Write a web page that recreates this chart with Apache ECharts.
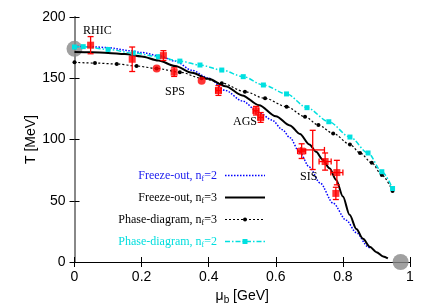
<!DOCTYPE html>
<html><head><meta charset="utf-8">
<script src="https://cdn.jsdelivr.net/npm/echarts@6/dist/echarts.min.js"></script>
<style>html,body{margin:0;padding:0;background:#fff}#c{width:436px;height:305px}</style>
</head><body><div id="c"></div>
<script>
// Freeze-out, nf=2 (blue dotted)
const freeze2Mu = [0, 0.05, 0.1, 0.165, 0.2, 0.25, 0.3, 0.35, 0.4, 0.45, 0.5, 0.55, 0.588, 0.62, 0.642, 0.672, 0.7, 0.732, 0.771, 0.81, 0.84, 0.875, 0.882];
const freeze2T  = [176, 175.7, 175, 172.5, 171, 168.5, 164, 156.5, 150, 140, 131.5, 122, 116, 108, 101.5, 89, 77.5, 64.5, 48, 34, 24, 12.5, 10.5];
// Freeze-out, nf=3 (black solid)
const freeze3Mu = [0, 0.05, 0.1, 0.15, 0.2, 0.25, 0.3, 0.35, 0.4, 0.45, 0.5, 0.55, 0.6, 0.642, 0.672, 0.7, 0.72, 0.74, 0.76, 0.78, 0.8, 0.82, 0.84, 0.86, 0.88, 0.9, 0.92, 0.934];
const freeze3T  = [171.5, 171.3, 170.7, 169.7, 167.8, 164.5, 160, 154.5, 149.5, 143.5, 136, 128, 119, 111.5, 104.5, 96, 90, 83.5, 76.5, 67, 53.5, 38.5, 27, 19, 12.5, 8, 4.5, 3];
// Phase-diagram, nf=3 (black dotted with dots)
const phase3Mu = [0, 0.061, 0.126, 0.185, 0.245, 0.314, 0.379, 0.439, 0.508, 0.568, 0.632, 0.687, 0.727, 0.771, 0.821, 0.851, 0.886, 0.916, 0.948];
const phase3T  = [163, 162.4, 161.6, 160, 158, 155, 150, 146, 139, 133.6, 126.8, 118.6, 111.8, 105, 96, 89, 81, 71, 58];
// Phase-diagram, nf=2 (cyan dash-dot with squares)
const phase2Mu = [0, 0.026, 0.1, 0.175, 0.25, 0.314, 0.374, 0.439, 0.503, 0.563, 0.632, 0.693, 0.758, 0.821, 0.875, 0.916, 0.948];
const phase2T  = [175.5, 175.8, 173.5, 170.6, 167.6, 164, 160.8, 156.7, 151.3, 144.5, 137.2, 126, 114.5, 102, 89, 73.7, 60];
// Experimental freeze-out points with errors
const expMu   = [0.048, 0.172, 0.265, 0.245, 0.297, 0.379, 0.429, 0.541, 0.555, 0.677, 0.71, 0.747, 0.782, 0.779];
const expT    = [177, 165.5, 168.5, 158, 155, 148, 140, 123.5, 118, 90.5, 91.5, 82, 73, 56];
const expMuErr= [0, 0, 0, 0, 0, 0, 0.008, 0.008, 0.008, 0.012, 0.035, 0.018, 0.018, 0];
const expTErr = [7, 10, 4, 0, 3.5, 0, 4, 3.5, 4, 6, 16, 7, 10, 5];
// Grey end points
const endMu = [0, 0.972];
const endT  = [174, 0];
// Legend / series names
const seriesNames = ['Freeze-out, nf=2', 'Freeze-out, nf=3', 'Phase-diagram, nf=3', 'Phase-diagram, nf=2'];
// Annotations
const annText = ['RHIC', 'SPS', 'AGS', 'SIS'];

const zip = (a, b) => a.map((v, i) => [v, b[i]]);
const serif = 'Liberation Serif';
const sans = 'Liberation Sans';
const BLUE = '#0000ff', CYAN = '#00e0e0', BLACK = '#000000';
const legendCols = [ '#1a1aee', BLACK, BLACK, '#00dede' ];
const legendLine = [
  {stroke: BLUE, lineWidth: 1.5, lineDash: [1.5, 1.5]},
  {stroke: BLACK, lineWidth: 2},
  {stroke: BLACK, lineWidth: 1.2, lineDash: [2, 2]},
  {stroke: CYAN, lineWidth: 1.5, lineDash: [5, 2, 1.5, 2]}
];
const legendSym = [null, null, 'circle', 'rect'];
const rowY = [175.5, 197.5, 219.5, 241.5];
const txtRight = 217, lineX1 = 225, lineX2 = 265;

const legendGraphics = [];
seriesNames.forEach((name, i) => {
  const m = name.match(/^(.*n)f(=\d)$/);
  const c = legendCols[i];
  legendGraphics.push({
    type: 'text', x: txtRight, y: rowY[i], z: 100,
    style: {
      text: '{t|' + m[1] + '}{s|f}{t|' + m[2] + '}',
      align: 'right', verticalAlign: 'middle',
      rich: {
        t: {fontFamily: serif, fontSize: 12, fill: c, color: c},
        s: {fontFamily: serif, fontSize: 8, fill: c, color: c, padding: [6, 0, 0, 0]}
      }
    }
  });
  legendGraphics.push({
    type: 'line', z: 100,
    shape: {x1: lineX1, y1: rowY[i], x2: lineX2, y2: rowY[i]},
    style: legendLine[i]
  });
  if (legendSym[i] === 'circle') {
    legendGraphics.push({type: 'circle', z: 101, shape: {cx: (lineX1 + lineX2) / 2, cy: rowY[i], r: 2}, style: {fill: BLACK}});
  } else if (legendSym[i] === 'rect') {
    legendGraphics.push({type: 'rect', z: 101, shape: {x: (lineX1 + lineX2) / 2 - 2.5, y: rowY[i] - 2.5, width: 5, height: 5}, style: {fill: CYAN}});
  }
});

const annPos = [[83, 31], [165, 92], [233, 122], [300, 177]];
const annGraphics = annText.map((t, i) => ({
  type: 'text', x: annPos[i][0], y: annPos[i][1], z: 100,
  style: {text: t, fontFamily: serif, fontSize: 12, fill: '#000', verticalAlign: 'middle'}
}));

const chart = echarts.init(document.getElementById('c'), null, {renderer: 'canvas'});
const common = {type: 'value', min: 0, max: 1, interval: 0.2, splitLine: {show: false}};

chart.setOption({
  animation: false,
  backgroundColor: '#fff',
  grid: {left: 74.5, right: 26, top: 17, bottom: 43, containLabel: false, outerBoundsMode: 'none'},
  xAxis: [
    Object.assign({}, common, {
      position: 'bottom',
      axisLine: {lineStyle: {color: '#000', width: 1}},
      axisTick: {inside: true, length: 5, lineStyle: {color: '#000'}},
      axisLabel: {fontFamily: sans, fontSize: 14, color: '#000', margin: 8},
      name: '{a|μ}{b|b}{a| [GeV]}', nameLocation: 'middle', nameGap: 26, nameMoveOverlap: false,
      nameTextStyle: {rich: {a: {fontFamily: sans, fontSize: 14, color: '#000'}, b: {fontFamily: sans, fontSize: 10, color: '#000', padding: [7, 0, 0, 0]}}}
    }),
    Object.assign({}, common, {
      position: 'top',
      axisLine: {lineStyle: {color: '#000', width: 1}},
      axisTick: {inside: true, length: 5, lineStyle: {color: '#000'}},
      axisLabel: {show: false}
    })
  ],
  yAxis: [
    {type: 'value', min: 0, max: 200, interval: 50, position: 'left', splitLine: {show: false},
     axisLine: {lineStyle: {color: '#888', width: 2}},
     axisTick: {inside: true, length: 5, lineStyle: {color: '#000'}},
     axisLabel: {fontFamily: sans, fontSize: 14, color: '#000', margin: 9},
     name: 'T [MeV]', nameLocation: 'middle', nameGap: 36, nameRotate: 90, nameMoveOverlap: false,
     nameTextStyle: {fontFamily: sans, fontSize: 14, color: '#000'}},
    {type: 'value', min: 0, max: 200, interval: 50, position: 'right', splitLine: {show: false},
     axisLine: {lineStyle: {color: '#888', width: 2}},
     axisTick: {inside: true, length: 5, lineStyle: {color: '#000'}},
     axisLabel: {show: false}}
  ],
  graphic: legendGraphics.concat(annGraphics),
  series: [
    {type: 'scatter', name: 'end', data: zip(endMu, endT), symbolSize: 16, clip: false,
     itemStyle: {color: '#888'}, z: 1, silent: true},
    {type: 'line', name: seriesNames[0], data: zip(freeze2Mu, freeze2T), symbol: 'none',
     smooth: 0.3, smoothMonotone: 'x',
     lineStyle: {color: BLUE, width: 1.5, type: [1.5, 1.5]}, z: 3},
    {type: 'line', name: seriesNames[1], data: zip(freeze3Mu, freeze3T), symbol: 'none',
     smooth: 0.3, smoothMonotone: 'x',
     lineStyle: {color: BLACK, width: 2}, z: 3},
    {type: 'line', name: seriesNames[2], data: zip(phase3Mu, phase3T), symbol: 'circle', symbolSize: 4,
     smooth: 0.3, smoothMonotone: 'x',
     lineStyle: {color: BLACK, width: 1.2, type: [2, 2]}, itemStyle: {color: BLACK}, z: 3},
    {type: 'line', name: seriesNames[3], data: zip(phase2Mu, phase2T), symbol: 'rect', symbolSize: 5,
     smooth: 0.3, smoothMonotone: 'x',
     lineStyle: {color: CYAN, width: 1.5, type: [5, 2, 1.5, 2]}, itemStyle: {color: CYAN}, z: 3},
    {type: 'custom', name: 'err', z: 5,
     data: expMu.map((m, i) => [m, expT[i], expMuErr[i], expTErr[i]]),
     encode: {x: 0, y: 1},
     renderItem: (params, api) => {
       const mu = api.value(0), t = api.value(1), dm = api.value(2), dt = api.value(3);
       const st = {stroke: '#ff0000', lineWidth: 1.3};
       const ch = [];
       const cap = 3;
       if (dt > 0) {
         const a = api.coord([mu, t + dt]), b = api.coord([mu, t - dt]);
         ch.push({type: 'line', shape: {x1: a[0], y1: a[1], x2: b[0], y2: b[1]}, style: st});
         ch.push({type: 'line', shape: {x1: a[0] - cap, y1: a[1], x2: a[0] + cap, y2: a[1]}, style: st});
         ch.push({type: 'line', shape: {x1: b[0] - cap, y1: b[1], x2: b[0] + cap, y2: b[1]}, style: st});
       }
       if (dm > 0) {
         const a = api.coord([mu - dm, t]), b = api.coord([mu + dm, t]);
         ch.push({type: 'line', shape: {x1: a[0], y1: a[1], x2: b[0], y2: b[1]}, style: st});
         ch.push({type: 'line', shape: {x1: a[0], y1: a[1] - cap, x2: a[0], y2: a[1] + cap}, style: st});
         ch.push({type: 'line', shape: {x1: b[0], y1: b[1] - cap, x2: b[0], y2: b[1] + cap}, style: st});
       }
       return {type: 'group', children: ch};
     }},
    {type: 'scatter', name: 'pts', z: 6,
     data: expMu.map((m, i) => ({
       value: [m, expT[i]],
       symbol: expTErr[i] > 0 ? 'rect' : 'circle',
       symbolSize: expMuErr[i] > 0.03 ? 0 : (expTErr[i] > 0 ? 7 : 8)
     })),
     itemStyle: {color: '#ff0000'}}
  ]
});
</script></body></html>
